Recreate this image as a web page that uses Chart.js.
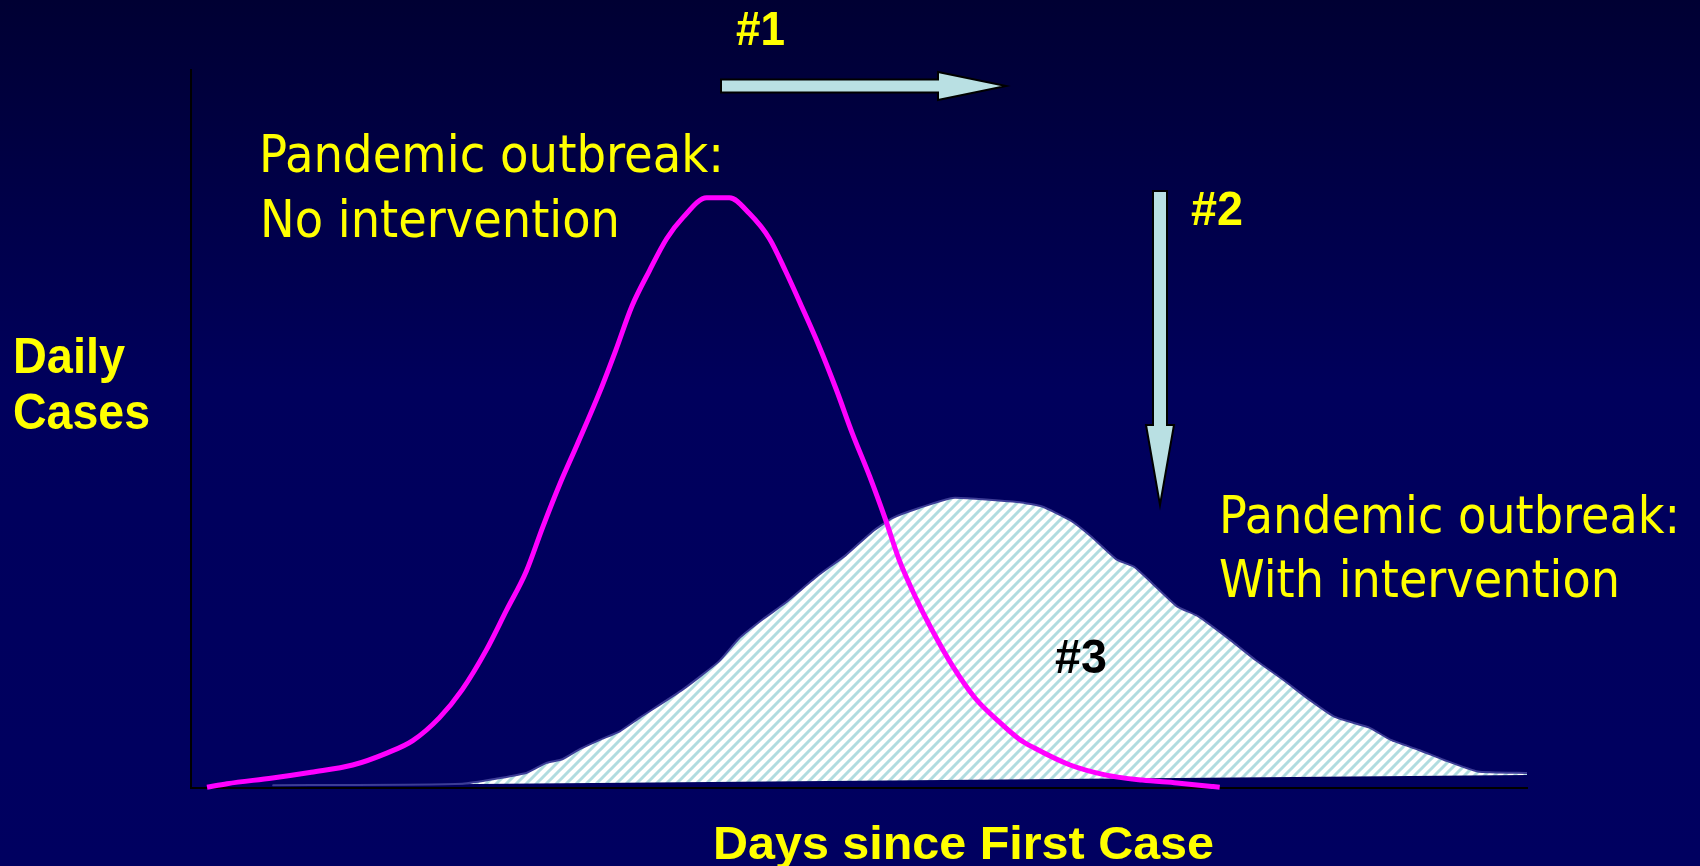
<!DOCTYPE html>
<html>
<head>
<meta charset="utf-8">
<script src="https://cdn.jsdelivr.net/npm/chart.js@4/dist/chart.umd.min.js"></script>
<style>
  html, body { margin: 0; padding: 0; background: #000060; }
  canvas { display: block; }
</style>
</head>
<body>
<canvas id="c" width="1700" height="866"></canvas>
<script>
// ---- Data (days since first case, daily cases in relative units) ----
const noInterventionDays = [1.2, 2.7, 6.1, 9.0, 12.1, 14.7, 16.6, 18.6, 20.3, 22.1, 23.6, 25.1, 26.3, 27.6, 28.9, 30.6, 31.8, 33.0, 34.3, 35.6, 36.8, 38.6, 40.3, 41.8, 43.3, 44.5, 45.7, 47.0, 48.3, 49.5, 50.8, 52.0, 53.0, 54.3, 55.5, 57.0, 58.7, 60.5, 62.0, 63.1, 65.8, 68.5, 71.2, 73.8, 76.5, 77.0];
const noInterventionCases = [0.1, 0.6, 1.4, 2.2, 3.2, 4.9, 6.6, 9.8, 13.7, 19.2, 24.7, 30.2, 36.2, 42.3, 47.8, 55.2, 61.0, 67.1, 72.0, 76.5, 79.4, 82.2, 82.2, 80.0, 76.5, 72.0, 67.1, 61.6, 55.5, 49.4, 43.4, 37.3, 31.8, 26.3, 21.9, 17.0, 12.5, 9.2, 6.8, 5.6, 3.2, 1.8, 1.1, 0.7, 0.2, 0.1];

const interventionDays = [6.1, 20.3, 25.1, 26.6, 27.8, 29.1, 30.6, 32.1, 33.6, 36.8, 39.5, 41.0, 42.8, 44.5, 47.0, 49.0, 51.0, 52.5, 54.5, 57.0, 62.0, 63.7, 65.8, 67.4, 69.3, 70.6, 71.9, 73.8, 75.4, 77.8, 79.7, 81.8, 83.7, 85.6, 88.2, 89.8, 91.9, 93.8, 96.3, 100];
const interventionCases = [0.4, 0.6, 2.1, 3.5, 4.0, 5.4, 6.7, 7.9, 9.8, 13.7, 17.6, 20.8, 23.5, 25.8, 29.7, 32.4, 35.7, 37.6, 39.0, 40.4, 39.8, 39.2, 37.3, 35.0, 31.8, 30.8, 28.6, 25.3, 23.9, 20.6, 17.8, 15.0, 12.3, 9.9, 8.4, 6.7, 5.3, 3.9, 2.3, 2.1];

// baseline under the "with intervention" area (slightly tilted in the original)
const baselineDays = [6.1, 100];
const baselineCases = [0.3, 1.8];

const xTitle = "Days since First Case";
const yTitleLines = ["Daily", "Cases"];
const labelNoInt = ["Pandemic outbreak:", "No intervention"];
const labelWithInt = ["Pandemic outbreak:", "With intervention"];

const toXY = (xs, ys) => xs.map((x, i) => ({ x: x, y: ys[i] }));

// hatch pattern
function makeHatch() {
  const s = 10;
  const t = document.createElement('canvas');
  t.width = s; t.height = s;
  const g = t.getContext('2d');
  g.fillStyle = '#ffffff';
  g.fillRect(0, 0, s, s);
  g.strokeStyle = '#b0dce0';
  g.lineWidth = 3.0;
  g.beginPath();
  g.moveTo(-2, s + 2); g.lineTo(s + 2, -2);
  g.moveTo(-s - 2, s + 2); g.lineTo(s + 2, -s - 2);
  g.moveTo(-2, 2 * s + 2); g.lineTo(2 * s + 2, -2);
  g.stroke();
  return g.createPattern(t, 'repeat');
}

function txt(ctx, s, x, y, font, color, w) {
  ctx.save();
  ctx.font = font;
  ctx.textBaseline = 'alphabetic';
  ctx.textAlign = 'left';
  const m = ctx.measureText(s).width;
  ctx.translate(x, y);
  ctx.scale(w / m, 1);
  ctx.fillStyle = color;
  ctx.fillText(s, 0, 0);
  ctx.restore();
}

const bgPlugin = {
  id: 'bg',
  beforeDraw(chart) {
    const ctx = chart.ctx;
    const g = ctx.createLinearGradient(0, 0, 0, chart.height);
    g.addColorStop(0, '#000033');
    g.addColorStop(0.45, '#00005c');
    g.addColorStop(1, '#000060');
    ctx.save();
    ctx.fillStyle = g;
    ctx.fillRect(0, 0, chart.width, chart.height);
    ctx.restore();
  }
};

const annoPlugin = {
  id: 'anno',
  afterDraw(chart) {
    const ctx = chart.ctx;
    const Y = '#ffff00';
    const reg = '52px "DejaVu Sans"';
    const bold = 'bold 48px "Liberation Sans"';

    txt(ctx, labelNoInt[0], 259, 172, reg, Y, 465);
    txt(ctx, labelNoInt[1], 260, 237, reg, Y, 360);
    txt(ctx, labelWithInt[0], 1219, 533, reg, Y, 461);
    txt(ctx, labelWithInt[1], 1219, 597, reg, Y, 401);

    txt(ctx, '#1', 736, 45, bold, Y, 49);
    txt(ctx, '#2', 1191, 225, bold, Y, 52);
    txt(ctx, '#3', 1055, 673, bold, '#000000', 52);

    txt(ctx, yTitleLines[0], 13, 373, 'bold 50px "Liberation Sans"', Y, 112);
    txt(ctx, yTitleLines[1], 13, 429, 'bold 50px "Liberation Sans"', Y, 137);
    txt(ctx, xTitle, 713, 859, 'bold 47px "Liberation Sans"', Y, 501);

    ctx.save();
    ctx.fillStyle = '#b9e0e3';
    ctx.strokeStyle = '#000000';
    ctx.lineWidth = 2;
    ctx.lineJoin = 'miter';
    ctx.beginPath();
    ctx.moveTo(721, 79.5);
    ctx.lineTo(938, 79.5);
    ctx.lineTo(938, 72);
    ctx.lineTo(1006, 86);
    ctx.lineTo(938, 100);
    ctx.lineTo(938, 92.5);
    ctx.lineTo(721, 92.5);
    ctx.closePath();
    ctx.fill(); ctx.stroke();
    ctx.beginPath();
    ctx.moveTo(1153, 191);
    ctx.lineTo(1167, 191);
    ctx.lineTo(1167, 425);
    ctx.lineTo(1174, 425);
    ctx.lineTo(1160, 505);
    ctx.lineTo(1146, 425);
    ctx.lineTo(1153, 425);
    ctx.closePath();
    ctx.fill(); ctx.stroke();
    ctx.restore();
  }
};

const ctx = document.getElementById('c').getContext('2d');
new Chart(ctx, {
  type: 'line',
  data: {
    datasets: [
      {
        label: 'No intervention',
        data: toXY(noInterventionDays, noInterventionCases),
        borderColor: '#ff00ff',
        borderWidth: 5,
        pointRadius: 0,
        cubicInterpolationMode: 'monotone',
        fill: false,
        clip: 6
      },
      {
        label: 'With intervention',
        data: toXY(interventionDays, interventionCases),
        borderColor: '#3c3c96',
        borderWidth: 2,
        backgroundColor: makeHatch(),
        pointRadius: 0,
        tension: 0.15,
        fill: 2
      },
      {
        label: 'baseline',
        data: toXY(baselineDays, baselineCases),
        borderColor: 'rgba(0,0,0,0)',
        borderWidth: 0,
        pointRadius: 0,
        fill: false
      }
    ]
  },
  options: {
    responsive: false,
    animation: false,
    events: [],
    layout: { padding: { left: 191, top: 70, right: 173, bottom: 78 } },
    plugins: {
      legend: { display: false },
      tooltip: { enabled: false },
      title: { display: false }
    },
    scales: {
      x: {
        type: 'linear', min: 0, max: 100,
        grid: { display: false, drawTicks: false },
        ticks: { display: false },
        border: { display: true, color: '#000000', width: 2 }
      },
      y: {
        type: 'linear', min: 0, max: 100,
        grid: { display: false, drawTicks: false },
        ticks: { display: false },
        border: { display: true, color: '#000000', width: 2 }
      }
    }
  },
  plugins: [bgPlugin, annoPlugin]
});
</script>
</body>
</html>
